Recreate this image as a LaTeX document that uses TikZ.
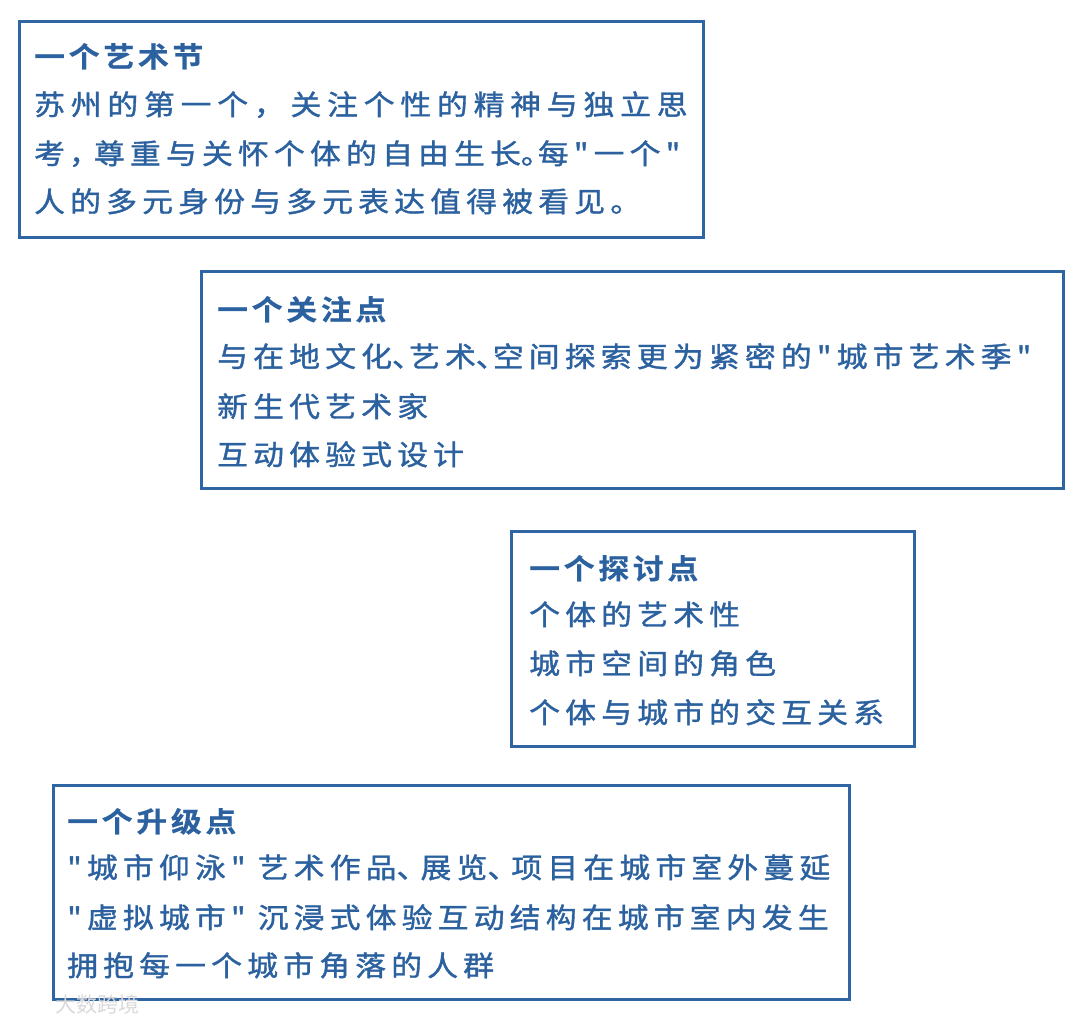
\documentclass[tikz,border=0pt]{standalone}
\usepackage{fontspec}
\newfontfamily\cjk[LetterSpace=18.6,FakeStretch=1.1,FakeBold=1.3]{Noto Sans CJK SC}
\newfontfamily\cjkj[LetterSpace=20.8,FakeStretch=1.1,FakeBold=1.3]{Noto Sans CJK SC}
\newfontfamily\cjkt[LetterSpace=13.5,FakeStretch=1.1,FakeBold=0.6]{Noto Sans CJK SC Bold}
\newfontfamily\cjkw{Noto Sans CJK SC}
\newcommand\dunhao[1][17pt]{\makebox[#1][l]{、}}
\newcommand\juhao{\makebox[17pt][l]{。}}
\newcommand\douhao{\makebox[29pt][l]{\hspace{4pt}，}}
\definecolor{boxblue}{HTML}{2F65A3}
\definecolor{txtblue}{HTML}{2C61A0}
\begin{document}
\begin{tikzpicture}[x=1pt,y=-1pt,
  box/.style={draw=boxblue,line width=2.6pt,fill=white,minimum width=#1,anchor=north west,inner sep=0pt},
  ttl/.style={anchor=base west,inner sep=0pt,text=txtblue,font=\cjkt\fontsize{28}{40}\selectfont},
  ln/.style={anchor=base west,inner sep=0pt,text=txtblue,font=\cjk\fontsize{28}{40}\selectfont},
  lnj/.style={ln,font=\cjkj\fontsize{28}{40}\selectfont},
  wm/.style={anchor=base west,inner sep=0pt,text=black!15,font=\cjkw\fontsize{21}{24}\selectfont}]
\useasboundingbox[fill=white] (0,0) rectangle (1080,1023);
% box 1
\node[box=684pt,minimum height=216pt] (b1) at (18,20) {};
\node[ttl] (t1) at (34,67) {一个艺术节};
\node[lnj] (l11) at (34,115) {苏州的第一个，关注个性的精神与独立思};
\node[ln] (l12) at (34,164) {考\douhao 尊重与关怀个体的自由生长\juhao 每"一个"};
\node[ln] (l13) at (34,212) {人的多元身份与多元表达值得被看见。};
% box 2
\node[box=862pt,minimum height=217pt] (b2) at (200,270) {};
\node[ttl] (t2) at (217,320) {一个关注点};
\node[ln] (l21) at (217,367) {与在地文化\dunhao 艺术\dunhao 空间探索更为紧密的"城市艺术季"};
\node[ln] (l22) at (217,417) {新生代艺术家};
\node[ln] (l23) at (217,465) {互动体验式设计};
% box 3
\node[box=403pt,minimum height=215pt] (b3) at (510,530) {};
\node[ttl] (t3) at (529,579) {一个探讨点};
\node[ln] (l31) at (529,625) {个体的艺术性};
\node[ln] (l32) at (529,674) {城市空间的角色};
\node[ln] (l33) at (529,723) {个体与城市的交互关系};
% box 4
\node[box=796pt,minimum height=214pt] (b4) at (52,784) {};
\node[ttl] (t4) at (67,832) {一个升级点};
\node[ln] (l41) at (67,878) {"城市仰泳" 艺术作品\dunhao[24pt]展览\dunhao[24pt]项目在城市室外蔓延};
\node[ln] (l42) at (67,928) {"虚拟城市" 沉浸式体验互动结构在城市室内发生};
\node[ln] (l43) at (67,976) {拥抱每一个城市角落的人群};
% watermark
\node[wm] (w) at (55,1012) {大数跨境};
\end{tikzpicture}
\end{document}
